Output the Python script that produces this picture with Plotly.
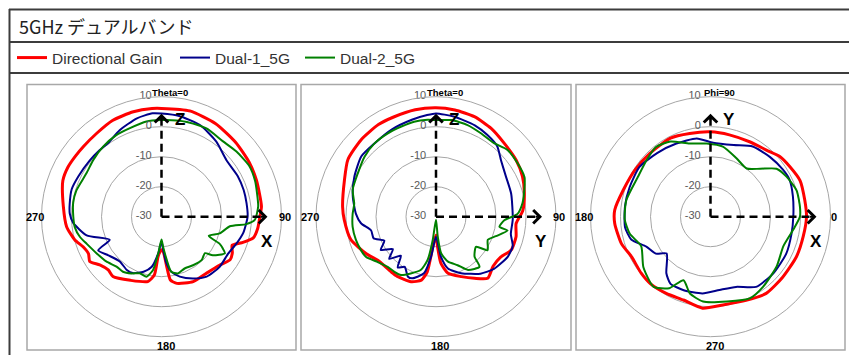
import plotly.graph_objects as go

# the page puts the plot 8px in from the top-left corner of the window
OX, OY = 8, 8
W, H = 857 - OX, 355 - OY

# gain (dBi) against angle (deg), read off the three pattern cuts
# XZ cut (Theta, 0 = +Z, clockwise)
xz_theta_red = [0, 15, 30, 45, 58, 69, 84, 90, 97, 103, 108, 112, 117, 122, 130, 141, 154, 167, 172, 174,
                177, 180, 183, 185, 187, 192, 206, 219, 225, 232, 238, 243, 249, 255, 264, 276, 290, 298, 305, 312,
                322, 333, 345, 355, 360]
xz_gain_red = [6.1, 6.5, 5.9, 5.0, 4.4, 3.9, 3.5, 2.8, 2.3, 1.4, -1.9, -4.6, -3.5, -3.0, -4.8, -5.9, -5.9, -7.2, -8.7, -13.3,
               -18.3, -19.0, -18.0, -16.6, -10.4, -7.9, -6.4, -4.3, -4.9, -3.9, -1.8, -2.7, -2.0, -0.1, 1.8, 2.9, 5.0, 5.3, 5.1, 5.0,
               5.2, 6.0, 6.2, 6.2, 6.1]
xz_theta_blue = [0, 10, 23, 36, 49, 62, 72, 81, 90, 101, 110, 119, 131, 143, 153, 163, 170, 174, 177, 180,
                 185, 191, 198, 207, 213, 223, 234, 242, 246, 256, 266, 272, 278, 287, 296, 308, 317, 325, 334, 346,
                 355, 360]
xz_gain_blue = [4.4, 4.1, 3.1, 1.0, -1.3, -1.2, -1.2, -1.3, -1.3, -2.2, -3.5, -4.6, -4.4, -5.0, -6.9, -9.1, -11.4, -14.4, -18.9, -21.7,
                -17.8, -13.0, -10.7, -8.9, -8.8, -9.6, -8.1, -6.1, -11.1, -4.3, -0.5, 0.6, 0.9, 1.3, 0.8, 0.4, 0.3, 0.4, 2.0, 3.8,
                4.6, 4.4]
xz_theta_green = [0, 9, 15, 27, 39, 49, 60, 69, 76, 84, 92, 95, 98, 106, 112, 115, 117, 120, 127, 130,
                  137, 147, 156, 164, 170, 173, 177, 180, 185, 189, 194, 201, 208, 215, 222, 231, 241, 250, 256, 263,
                  270, 279, 287, 300, 310, 320, 331, 340, 351, 360]
xz_gain_green = [2.2, 2.5, 2.7, 3.0, 2.4, 3.1, 3.8, 3.4, 2.8, 2.4, 1.1, -1.6, -7.0, -9.8, -13.0, -8.6, -7.2, -5.6, -8.6, -11.1,
                 -10.3, -10.7, -11.1, -10.3, -11.4, -15.4, -20.0, -22.4, -17.8, -12.0, -9.4, -9.8, -8.6, -7.6, -7.6, -6.3, -5.1, -3.5, -2.0, -0.9,
                 -0.6, -0.2, -0.3, -1.1, -0.4, 0.4, 1.1, 1.3, 2.1, 2.2]

# YZ cut (Theta, 0 = +Z, clockwise)
yz_theta_red = [0, 10, 21, 32, 43, 55, 65, 75, 86, 95, 104, 114, 122, 131, 140, 148, 157, 168, 174, 177,
                180, 186, 189, 193, 201, 213, 219, 232, 242, 255, 268, 276, 292, 303, 316, 328, 337, 349, 360]
yz_gain_red = [6.3, 6.1, 5.7, 4.7, 3.4, 2.7, 1.8, 0.5, -1.0, -3.2, -2.5, -2.6, -4.6, -4.8, -3.2, -5.8, -8.3, -10.7, -14.4, -20.0,
               -23.9, -19.9, -11.4, -8.3, -6.8, -6.3, -6.3, -5.9, -3.7, -0.6, 0.6, 1.3, 2.9, 5.0, 5.8, 6.2, 6.1, 6.3, 6.3]
yz_theta_blue = [0, 10, 23, 32, 41, 49, 60, 73, 92, 103, 111, 119, 132, 142, 156, 167, 173, 180, 187, 192,
                 201, 205, 212, 217, 222, 228, 233, 239, 245, 251, 258, 265, 272, 284, 296, 309, 320, 333, 346, 355,
                 360]
yz_gain_blue = [4.4, 3.9, 3.1, 2.2, 1.1, -1.3, -3.1, -3.8, -4.4, -4.4, -2.6, -2.6, -4.0, -5.9, -9.4, -12.3, -16.6, -23.3, -16.6, -10.7,
                -8.0, -7.9, -10.3, -8.8, -12.5, -9.0, -12.0, -8.5, -11.0, -8.0, -7.9, -4.9, -3.3, -1.4, 0.3, 2.0, 1.9, 2.6, 3.3, 4.0,
                4.4]
yz_theta_green = [0, 9, 19, 28, 38, 47, 57, 66, 73, 81, 88, 93, 99, 101, 108, 114, 123, 127, 136, 139,
                  149, 156, 165, 172, 175, 180, 188, 191, 196, 204, 211, 217, 224, 232, 240, 246, 254, 263, 272, 279,
                  288, 299, 310, 320, 330, 339, 347, 355, 360]
yz_gain_green = [2.2, 2.6, 2.3, 1.6, 1.2, 2.6, 2.5, 2.3, 0.8, -0.8, -2.8, -7.2, -8.6, -5.7, -9.0, -11.1, -9.5, -13.3, -11.5, -7.9,
                 -9.3, -12.3, -14.5, -17.7, -23.3, -29.0, -22.1, -15.3, -11.5, -9.3, -7.3, -7.0, -6.8, -5.4, -3.1, -2.6, -2.2, -2.0, -2.2, -2.4,
                 -0.8, -0.2, 1.1, 1.9, 2.1, 2.2, 2.5, 2.4, 2.2]

# XY cut (Phi, 0 = +X, counterclockwise)
xy_phi_red = [0, 10, 22, 32, 41, 50, 62, 77, 90, 104, 117, 134, 148, 163, 176, 184, 197, 207, 219, 228,
              240, 252, 265, 278, 293, 306, 320, 335, 348, 360]
xy_gain_red = [2.0, 1.9, 2.2, 1.3, 0.6, -1.0, -1.8, -2.0, -1.7, -1.4, -0.6, -0.8, -0.4, 0.4, 2.0, 2.0, 1.0, -0.5, -0.2, 0.0,
               -0.5, -0.8, 0.6, -0.3, 0.3, 1.6, 1.4, 1.6, 1.6, 2.0]
xy_phi_blue = [0, 14, 25, 33, 45, 59, 72, 88, 100, 115, 130, 145, 160, 173, 187, 196, 205, 214, 220, 232,
               239, 250, 264, 277, 290, 303, 318, 334, 348, 360]
xy_gain_blue = [-2.4, -1.7, -0.9, -1.2, -1.9, -2.7, -4.9, -5.3, -3.5, -3.1, -2.3, -1.1, -1.3, -1.3, -1.3, -2.5, -6.4, -8.0, -10.9, -6.1,
                -4.0, -3.9, -4.3, -5.4, -5.1, -2.1, -1.8, -1.9, -2.4, -2.4]
xy_phi_green = [0, 6, 17, 28, 36, 44, 53, 66, 80, 93, 106, 118, 128, 138, 151, 169, 182, 192, 203, 217,
                231, 240, 247, 255, 265, 281, 296, 307, 323, 338, 351, 360]
xy_gain_green = [-0.2, 0.0, 0.0, -1.4, -2.8, -7.0, -9.9, -8.7, -6.3, -5.6, -4.6, -1.6, -0.5, -1.5, -2.4, -1.4, -1.4, -2.5, -4.9, -2.0,
                 0.1, -2.5, -7.0, -3.5, -1.6, -1.2, 0.2, -0.8, -2.4, -3.8, -2.1, -0.2]

series_names = ['Directional Gain', 'Dual-1_5G', 'Dual-2_5G']
radial_ticks = [-30, -20, -10, 0, 10]
theta_ticktext = ['Theta=0', '90', '180', '270']   # top, right, bottom, left
phi_ticktext = ['Phi=90', '0', '270', '180']        # top, right, bottom, left

FONT = 'Liberation Sans, Arial, sans-serif'
colors = ['#ff0000', '#00008b', '#008000']
widths = [3, 2, 2]
legend_ids = ['legend', 'legend2', 'legend3']
legend_x = [12, 175, 300]


def xp(x):
    return (x - OX) / W


def yp(y):
    return 1 - (y - OY) / H


R = 120
CY = 216.7

panels = [
    dict(id='polar', cx=161.5, box=(27, 296), ticktext=theta_ticktext,
         rotation=90, direction='clockwise', up=0, right=90, labels=('Z', 'X'),
         series=[(xz_theta_red, xz_gain_red), (xz_theta_blue, xz_gain_blue), (xz_theta_green, xz_gain_green)]),
    dict(id='polar2', cx=436, box=(301, 571), ticktext=theta_ticktext,
         rotation=90, direction='clockwise', up=0, right=90, labels=('Z', 'Y'),
         series=[(yz_theta_red, yz_gain_red), (yz_theta_blue, yz_gain_blue), (yz_theta_green, yz_gain_green)]),
    dict(id='polar3', cx=710.5, box=(576, 845), ticktext=phi_ticktext,
         rotation=0, direction='counterclockwise', up=90, right=0, labels=('Y', 'X'),
         series=[(xy_phi_red, xy_gain_red), (xy_phi_blue, xy_gain_blue), (xy_phi_green, xy_gain_green)]),
]

fig = go.Figure()
shapes = []
annotations = []

for i, p in enumerate(panels):
    for (th, g), name, c, w, lg in zip(p['series'], series_names, colors, widths, legend_ids):
        fig.add_trace(go.Scatterpolar(
            r=g, theta=th, mode='lines', name=name, subplot=p['id'],
            line=dict(color=c, width=w, shape='spline', smoothing=0.6),
            showlegend=(i == 0), legend=lg, legendgroup=name, hoverinfo='skip'))

    # radial tick labels along the upward axis
    fig.add_trace(go.Scatterpolar(
        r=radial_ticks, theta=[p['up']] * len(radial_ticks), mode='markers+text',
        text=[str(v) for v in radial_ticks], textposition='middle left',
        marker=dict(size=14, opacity=0), textfont=dict(size=11, color='#595959', family=FONT),
        subplot=p['id'], showlegend=False, hoverinfo='skip'))

    # dashed reference axes
    for ang, end in [(p['up'], 3.6), (p['right'], 4.6)]:
        fig.add_trace(go.Scatterpolar(
            r=[-30, end], theta=[ang, ang], mode='lines', subplot=p['id'],
            line=dict(color='black', width=2.5, dash='8px,5px'),
            showlegend=False, hoverinfo='skip'))

    cx = p['cx']
    fig.update_layout(**{p['id']: dict(
        domain=dict(x=[xp(cx - R), xp(cx + R)], y=[yp(CY + R), yp(CY - R)]),
        bgcolor='white',
        radialaxis=dict(range=[-30, 10], tickvals=radial_ticks, showticklabels=False, ticks='',
                        showline=False, gridcolor='#a6a6a6', gridwidth=1),
        angularaxis=dict(rotation=p['rotation'], direction=p['direction'], showticklabels=False,
                         ticks='', showgrid=False, showline=True, linecolor='#a6a6a6', linewidth=1),
    )})

    # angle labels round the rim, placed the way the original sheet has them
    top, right, bottom, left = p['ticktext']
    for txt, lx, ly, size in [(top, cx + 8.5, CY - 123.7, 9.5), (right, cx + 123, CY, 11),
                              (bottom, cx + 4, CY + 129, 11), (left, cx - 126.5, CY, 11)]:
        annotations.append(dict(x=xp(lx), y=yp(ly), xref='paper', yref='paper', text=txt,
                                xanchor='center', yanchor='middle', showarrow=False,
                                font=dict(size=size, color='black', family=FONT, weight='bold')))

    # panel frame
    x0, x1 = p['box']
    shapes.append(dict(type='rect', xref='paper', yref='paper', x0=xp(x0), x1=xp(x1),
                       y0=yp(350), y1=yp(84.5), line=dict(color='#a8a8a8', width=1.5)))

    # arrowheads on the dashed axes
    for tx, ty, ax, ay in [(cx, CY - 103, 0, 8), (cx + 106, CY, -8, 0)]:
        annotations.append(dict(x=xp(tx), y=yp(ty), xref='paper', yref='paper', text='',
                                showarrow=True, arrowhead=4, arrowsize=1.3, arrowwidth=2,
                                arrowcolor='black', ax=ax, ay=ay))
    up_lab, right_lab = p['labels']
    for lab, lx, ly in [(up_lab, cx + 18, CY - 97), (right_lab, cx + 105, CY + 25)]:
        annotations.append(dict(x=xp(lx), y=yp(ly), xref='paper', yref='paper', text=lab,
                                xanchor='center', yanchor='middle', showarrow=False,
                                font=dict(size=17, color='black', family=FONT, weight='bold')))

# outer table frame
frame = dict(color='#3c3c3c', width=2)
for y in [9.5, 42, 73]:
    shapes.append(dict(type='line', xref='paper', yref='paper', x0=xp(9), x1=1.02, y0=yp(y), y1=yp(y), line=frame))
shapes.append(dict(type='line', xref='paper', yref='paper', x0=xp(9.5), x1=xp(9.5), y0=yp(9), y1=-0.02, line=frame))

annotations.append(dict(x=xp(17), y=yp(25.5), xref='paper', yref='paper', xanchor='left', yanchor='middle',
                        text='5GHz デュアルバンド', showarrow=False,
                        font=dict(size=18, color='#222222', family='Noto Sans CJK JP')))

legends = {}
for lg, lx in zip(legend_ids, legend_x):
    legends[lg] = dict(orientation='h', x=xp(lx), y=yp(58), xanchor='left', yanchor='middle',
                       font=dict(size=15.5, color='#333333', family=FONT), bgcolor='rgba(0,0,0,0)')

fig.update_layout(
    width=W, height=H,
    margin=dict(l=0, r=0, t=0, b=0),
    paper_bgcolor='white',
    shapes=shapes,
    annotations=annotations,
    **legends,
)

fig.write_html("out.html")
